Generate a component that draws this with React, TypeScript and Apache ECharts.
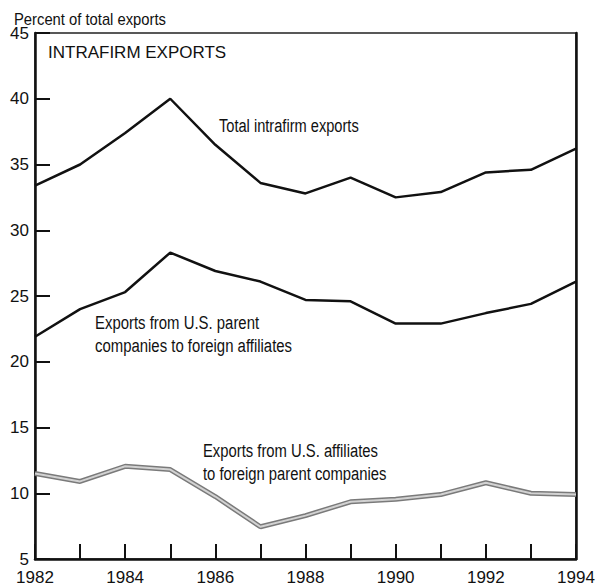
import React, { useEffect, useRef } from "react";
import * as echarts from "echarts";

const years = [1982, 1983, 1984, 1985, 1986, 1987, 1988, 1989, 1990, 1991, 1992, 1993, 1994];
const totalIntrafirm = [33.4, 35.0, 37.4, 40.0, 36.5, 33.6, 32.8, 34.0, 32.5, 32.9, 34.4, 34.6, 36.2];
const parentToAffiliates = [21.9, 24.0, 25.3, 28.3, 26.9, 26.1, 24.7, 24.6, 22.9, 22.9, 23.7, 24.4, 26.1];
const affiliatesToParents = [11.5, 10.9, 12.05, 11.8, 9.75, 7.45, 8.3, 9.35, 9.55, 9.9, 10.8, 10.0, 9.9];
const yTicks = [5, 10, 15, 20, 25, 30, 35, 40, 45];

const FONT = '"Liberation Sans", Arial, Helvetica, sans-serif';

export default function App() {
  const ref = useRef<HTMLDivElement>(null);
  useEffect(() => {
    if (!ref.current) return;
    const chart = echarts.init(ref.current, undefined, { renderer: "svg" });
    const pair = (vals: number[]) => years.map((y, i) => [y, vals[i]]);
    const narrowText = (text: string, x: number, y: number, size: number, sx: number, lh?: number) => ({
      type: "text",
      x,
      y,
      scaleX: sx,
      style: {
        text,
        fontFamily: FONT,
        fontSize: size,
        lineHeight: lh ?? size,
        fill: "#111",
        align: "left",
        verticalAlign: "middle",
      },
    });
    chart.setOption({
      animation: false,
      backgroundColor: "#ffffff",
      grid: {
        left: 35,
        right: 22,
        top: 33,
        bottom: 28,
        show: true,
        borderColor: "#222",
        borderWidth: 1.5,
        backgroundColor: "transparent",
      },
      xAxis: {
        type: "value",
        min: 1982,
        max: 1994,
        interval: 1,
        axisLine: { show: true, lineStyle: { color: "#111", width: 2.5 } },
        axisTick: { show: true, inside: true, length: 15, lineStyle: { color: "#111", width: 2 } },
        splitLine: { show: false },
        axisLabel: {
          color: "#111",
          fontFamily: FONT,
          fontSize: 17,
          margin: 10,
          formatter: (v: number) => (v % 2 === 0 ? String(v) : ""),
        },
      },
      yAxis: [
        {
          type: "value",
          min: yTicks[0],
          max: yTicks[yTicks.length - 1],
          interval: 5,
          axisLine: { show: true, lineStyle: { color: "#111", width: 2.5 } },
          axisTick: { show: true, inside: true, length: 15, lineStyle: { color: "#111", width: 2 } },
          splitLine: { show: false },
          axisLabel: { color: "#111", fontFamily: FONT, fontSize: 17, margin: 6 },
        },
        {
          type: "value",
          position: "right",
          min: yTicks[0],
          max: yTicks[yTicks.length - 1],
          interval: 5,
          axisLine: { show: true, lineStyle: { color: "#111", width: 2.5 } },
          axisTick: { show: false },
          axisLabel: { show: false },
          splitLine: { show: false },
        },
      ],
      series: [
        {
          name: "Total intrafirm exports",
          type: "line",
          data: pair(totalIntrafirm),
          symbol: "none",
          lineStyle: { color: "#111", width: 2.5 },
        },
        {
          name: "Exports from U.S. parent companies to foreign affiliates",
          type: "line",
          data: pair(parentToAffiliates),
          symbol: "none",
          lineStyle: { color: "#111", width: 2.5 },
        },
        {
          name: "Exports from U.S. affiliates to foreign parent companies",
          type: "line",
          data: pair(affiliatesToParents),
          symbol: "none",
          lineStyle: { color: "#7a7a7a", width: 5 },
        },
        {
          name: "affiliates-inner",
          type: "line",
          data: pair(affiliatesToParents),
          symbol: "none",
          lineStyle: { color: "#d2d2d2", width: 2 },
        },
      ],
      graphic: [
        narrowText("Percent of total exports", 14, 19, 17, 0.87),
        {
          type: "text",
          x: 48,
          y: 52,
          style: {
            text: "INTRAFIRM EXPORTS",
            fontFamily: FONT,
            fontSize: 17,
            fill: "#111",
            align: "left",
            verticalAlign: "middle",
          },
        },
        narrowText("Total intrafirm exports", 219, 126, 19, 0.77),
        narrowText("Exports from U.S. parent\ncompanies to foreign affiliates", 95, 334, 19, 0.785, 23),
        narrowText("Exports from U.S. affiliates\nto foreign parent companies", 203, 462, 19, 0.78, 23),
      ],
    });
    return () => chart.dispose();
  }, []);
  return (
    <div
      ref={ref}
      style={{ position: "fixed", left: 0, top: 0, width: 598, height: 587, background: "#fff" }}
    />
  );
}
